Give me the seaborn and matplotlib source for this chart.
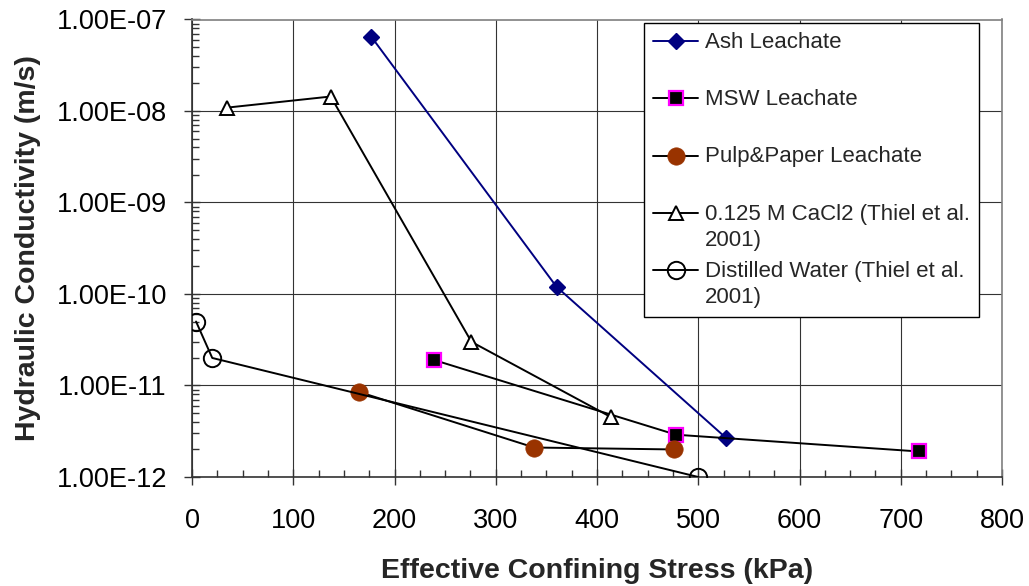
import numpy as np
import pandas as pd
import matplotlib
matplotlib.use("Agg")
import matplotlib.pyplot as plt
import seaborn as sns
from matplotlib.ticker import FuncFormatter, MultipleLocator, LogLocator, NullFormatter
from matplotlib.legend_handler import HandlerLine2D
from matplotlib.lines import Line2D

# ---- data ----
ash_x = [177, 360, 527]
ash_k = [6.5e-8, 1.2e-10, 2.7e-12]
msw_x = [239, 478, 718]
msw_k = [1.9e-11, 2.9e-12, 1.9e-12]
pulp_x = [165, 338, 476]
pulp_k = [8.5e-12, 2.1e-12, 2.0e-12]
cacl_x = [35, 137, 276, 414]
cacl_k = [1.09e-8, 1.44e-8, 3.0e-11, 4.5e-12]
dw_x = [4, 20, 500]
dw_k = [5.0e-11, 2.0e-11, 1.0e-12]

labels = ["Ash Leachate", "MSW Leachate", "Pulp&Paper Leachate",
          "0.125 M CaCl2 (Thiel et al.\n2001)",
          "Distilled Water (Thiel et al.\n2001)"]
x_ticks = [0, 100, 200, 300, 400, 500, 600, 700, 800]

sns.set_style("white")
plt.rcParams["font.family"] = ["Liberation Sans", "DejaVu Sans"]

fig = plt.figure(figsize=(10.29, 5.86), dpi=100)
ax = fig.add_axes([192/1029, 1-477/586, 810/1029, 457.5/586])

series = [
    (ash_x, ash_k, dict(color="#000080", marker="D", markersize=8.5,
                        markerfacecolor="#000080", markeredgecolor="#000080",
                        markeredgewidth=1.0)),
    (msw_x, msw_k, dict(color="black", marker="s", markersize=10,
                        markerfacecolor="black", markeredgecolor="#FF00FF",
                        markeredgewidth=1.6)),
    (pulp_x, pulp_k, dict(color="black", marker="o", markersize=12.5,
                          markerfacecolor="#993300", markeredgecolor="#993300",
                          markeredgewidth=0.5)),
    (cacl_x, cacl_k, dict(color="black", marker="^", markersize=10.5,
                          markerfacecolor="white", markeredgecolor="black",
                          markeredgewidth=1.4)),
    (dw_x, dw_k, dict(color="black", marker="o", markersize=12.5,
                      markerfacecolor="none", markeredgecolor="black",
                      markeredgewidth=1.4)),
]

handles = []
for (xs, ks, st), lab in zip(series, labels):
    df = pd.DataFrame({"x": xs, "k": ks})
    sns.lineplot(data=df, x="x", y="k", ax=ax, sort=False, estimator=None,
                 linewidth=1.4, legend=False, zorder=3, **st)
    handles.append(ax.lines[-1])

ax.set_yscale("log")
ax.set_ylim(1e-12, 1e-7)
ax.set_xlim(0, 800)
ax.set_xticks(x_ticks)
ax.xaxis.set_minor_locator(MultipleLocator(25))
ax.yaxis.set_major_locator(LogLocator(base=10, numticks=10))
ax.yaxis.set_minor_locator(LogLocator(base=10, subs=np.arange(2, 10), numticks=20))
ax.yaxis.set_minor_formatter(NullFormatter())
ax.yaxis.set_major_formatter(FuncFormatter(lambda v, p: f"{v:.2E}"))

ax.grid(True, which="major", color="#333333", linewidth=0.8)
ax.grid(False, which="minor")
ax.set_axisbelow(True)

ax.tick_params(axis="both", which="both", bottom=True, left=True,
               top=False, right=False)
ax.tick_params(axis="both", which="major", direction="inout", length=12,
               width=1.0, color="#333333", labelsize=19.5, labelcolor="black")
ax.tick_params(axis="x", which="major", pad=16)
ax.tick_params(axis="y", which="major", pad=12)
ax.tick_params(axis="both", which="minor", direction="in", length=5,
               width=1.0, color="#333333")

for s in ["left", "bottom"]:
    ax.spines[s].set_color("#333333")
    ax.spines[s].set_linewidth(1.2)
for s in ["top", "right"]:
    ax.spines[s].set_color("#808080")
    ax.spines[s].set_linewidth(1.2)

ax.set_xlabel("Effective Confining Stress (kPa)", fontsize=20.5, fontweight="bold")
ax.set_ylabel("Hydraulic Conductivity (m/s)", fontsize=20.5, fontweight="bold")
ax.xaxis.set_label_coords(0.5, -0.178)
ax.yaxis.set_label_coords(-0.187, 0.5)


class UpShift(HandlerLine2D):
    def __init__(self, shift, **kw):
        super().__init__(**kw)
        self.shift = shift

    def create_artists(self, legend, orig_handle, xdescent, ydescent, width,
                       height, fontsize, trans):
        arts = super().create_artists(legend, orig_handle, xdescent, ydescent,
                                      width, height, fontsize, trans)
        for a in arts:
            a.set_ydata(np.asarray(a.get_ydata()) + self.shift * fontsize)
        return arts


leg_labels = [l if "\n" in l else l + "\n " for l in labels]
leg = fig.legend(handles, leg_labels, loc="upper left",
                 bbox_to_anchor=(644/1029, 1-23/586), borderaxespad=0,
                 fontsize=16, frameon=True, fancybox=False, framealpha=1,
                 edgecolor="black", handlelength=2.05, handletextpad=0.3,
                 borderpad=0.4, labelspacing=0.45,
                 handler_map={Line2D: UpShift(0.66)})
for t in leg.get_texts():
    t.set_linespacing(1.33)
leg.get_frame().set_linewidth(1.0)

fig.savefig("out.png", dpi=100, facecolor="white")
